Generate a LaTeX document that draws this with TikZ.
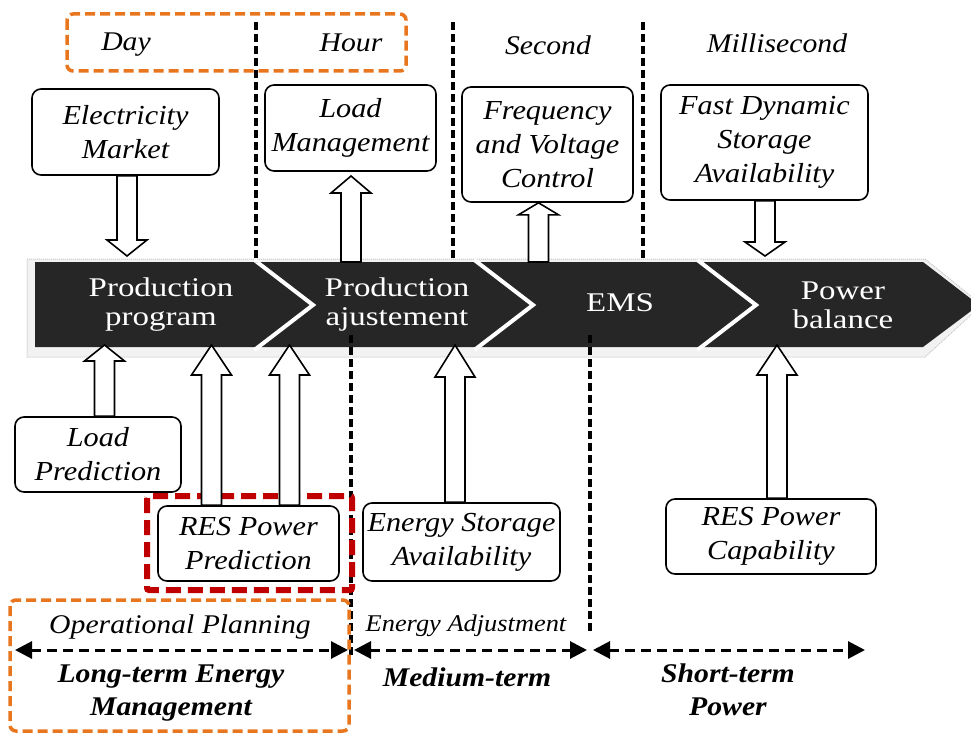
\documentclass[tikz,border=0pt]{standalone}
\usepackage{fontspec}
\setmainfont{Liberation Serif}[FakeStretch=1.1]
\newfontfamily\bandfont{Liberation Serif}[FakeStretch=1.22]
\usetikzlibrary{arrows.meta,calc}
\definecolor{bandgray}{RGB}{38,38,38}
\definecolor{orng}{RGB}{232,118,30}
\definecolor{dred}{RGB}{192,0,0}
\newcommand\barrup[4]{\draw[barrow] let \p1=(#2), \p2=(#3) in
 ({#1pt-10pt},\y1) -- ({#1pt-10pt},{\y2-#4pt}) -- ({#1pt-20pt},{\y2-#4pt}) -- (#1pt,\y2) -- ({#1pt+20pt},{\y2-#4pt}) -- ({#1pt+10pt},{\y2-#4pt}) -- ({#1pt+10pt},\y1) -- cycle;}
\newcommand\barrdown[4]{\draw[barrow] let \p1=(#2), \p2=(#3) in
 ({#1pt-10pt},\y1) -- ({#1pt-10pt},{\y2+#4pt}) -- ({#1pt-20pt},{\y2+#4pt}) -- (#1pt,\y2) -- ({#1pt+20pt},{\y2+#4pt}) -- ({#1pt+10pt},{\y2+#4pt}) -- ({#1pt+10pt},\y1) -- cycle;}
\tikzset{
  box/.style={draw, line width=1.6pt, rounded corners=9pt, align=center, inner sep=0pt,
    font=\itshape\fontsize{27.5}{34}\selectfont},
  barrow/.style={draw, fill=white, line width=1.6pt, line join=miter},
  bandtxt/.style={text=white, align=center, font=\bandfont\fontsize{27}{29}\selectfont},
  lbl/.style={font=\itshape\fontsize{27}{33}\selectfont, align=center},
  blbl/.style={font=\bfseries\itshape\fontsize{27}{33}\selectfont, align=center},
  vdash/.style={line width=3.6pt, dash pattern=on 8pt off 4pt},
  dasharr/.style={line width=3pt, dash pattern=on 10pt off 6pt, {Triangle[length=17pt,width=17pt]}-{Triangle[length=17pt,width=17pt]}},
  orbox/.style={draw=orng, line width=3.5pt, dash pattern=on 10pt off 5pt, rounded corners=6pt},
  redbox/.style={draw=dred, line width=6pt, dash pattern=on 15pt off 7pt, rounded corners=2pt}
}
\begin{document}
\begin{tikzpicture}[x=1pt,y=-1pt]
\useasboundingbox (0,0) rectangle (971,733);
% band shadow and band
\filldraw[fill=gray!10, draw=gray!45, densely dotted, line width=1pt]
  (27,259) -- (925,259) -- (982,305) -- (925,357) -- (27,357) -- cycle;
\fill[bandgray] (35,262) -- (923,262) -- (979,305) -- (923,347) -- (35,347) -- cycle;
\foreach \xx in {257,477,700}{
  \draw[white, line width=4pt, line join=miter] (\xx-2.6,260) -- (\xx+56,305) -- (\xx-2.6,350);
}
% vertical dashed lines
\draw[vdash] (256,22) -- (256,262);
\draw[vdash] (453,22) -- (453,262);
\draw[vdash] (643,22) -- (643,262);
\draw[vdash] (351,335) -- (351,655);
\draw[vdash] (590,335) -- (590,632);
% orange boxes
\draw[orbox] (67,14) rectangle (406,71);
\draw[orbox] (10,600) rectangle (349,731);
% red box
\draw[redbox] (147,496) rectangle (352,590);
% top labels
\node[lbl] (day) at (126,45) {Day};
\node[lbl] (hour) at (351,43) {Hour};
\node[lbl] (sec) at (548,45) {Second};
\node[lbl] (ms) at (777,43) {Millisecond};
% band texts
\node[bandtxt] (pp) at (161,305) {Production\\program};
\node[bandtxt] (pa) at (397,305) {Production\\ajustement};
\node[bandtxt] (ems) at (620,303) {EMS};
\node[bandtxt] (pb) at (843,305) {Power\\balance};
% boxes
\node[box, minimum width=187pt, minimum height=86pt] (em) at (125.5,132) {Electricity\\Market};
\node[box, minimum width=171pt, minimum height=86pt] (lm) at (350.5,128) {Load\\Management};
\node[box, minimum width=171pt, minimum height=115pt] (fv) at (547.5,144.5) {Frequency\\and Voltage\\Control};
\node[box, minimum width=207pt, minimum height=115pt] (fd) at (764.5,142.5) {Fast Dynamic\\Storage\\Availability};
\node[box, minimum width=166pt, minimum height=75pt] (lp) at (98,454.5) {Load\\Prediction};
\node[box, minimum width=181pt, minimum height=75pt] (rp) at (248.5,543.5) {RES Power\\Prediction};
\node[box, minimum width=197pt, minimum height=78pt] (es) at (461.5,542) {Energy Storage\\Availability};
\node[box, minimum width=210pt, minimum height=75pt] (rc) at (771,536.5) {RES Power\\Capability};
% band reference coordinates
\coordinate (btop) at (0,262);
\coordinate (dtip) at (0,256);
\coordinate (utip) at (0,345);
\coordinate (lmtip) at (0,176);
% block arrows
\barrdown{127}{em.south}{dtip}{16}
\barrdown{765}{fd.south}{dtip}{14}
\barrup{351}{btop}{lmtip}{17}
\barrup{538.5}{btop}{fv.south}{12}
\barrup{104.5}{lp.north}{utip}{16}
\barrup{211.5}{rp.north}{utip}{30}
\barrup{289.5}{rp.north}{utip}{30}
\barrup{455}{es.north}{utip}{32}
\barrup{777}{rc.north}{utip}{30}
% bottom labels
\node[lbl] (op) at (180,627) {Operational Planning};
\node[lbl, font=\itshape\fontsize{24}{28}\selectfont] (ea) at (466,626) {Energy Adjustment};
\node[blbl] (lt) at (171,693) {Long-term Energy\\Management};
\node[blbl] (mt) at (467,677) {Medium-term};
\node[blbl] (st) at (728,690) {Short-term\\Power};
% dashed double arrows
\coordinate (a1) at (15,650); \coordinate (a2) at (348,650);
\coordinate (b1) at (354,650); \coordinate (b2) at (587,650);
\coordinate (c1) at (593,650); \coordinate (c2) at (865,650);
\draw[dasharr] (a1) -- (a2);
\draw[dasharr] (b1) -- (b2);
\draw[dasharr] (c1) -- (c2);
\end{tikzpicture}
\end{document}
